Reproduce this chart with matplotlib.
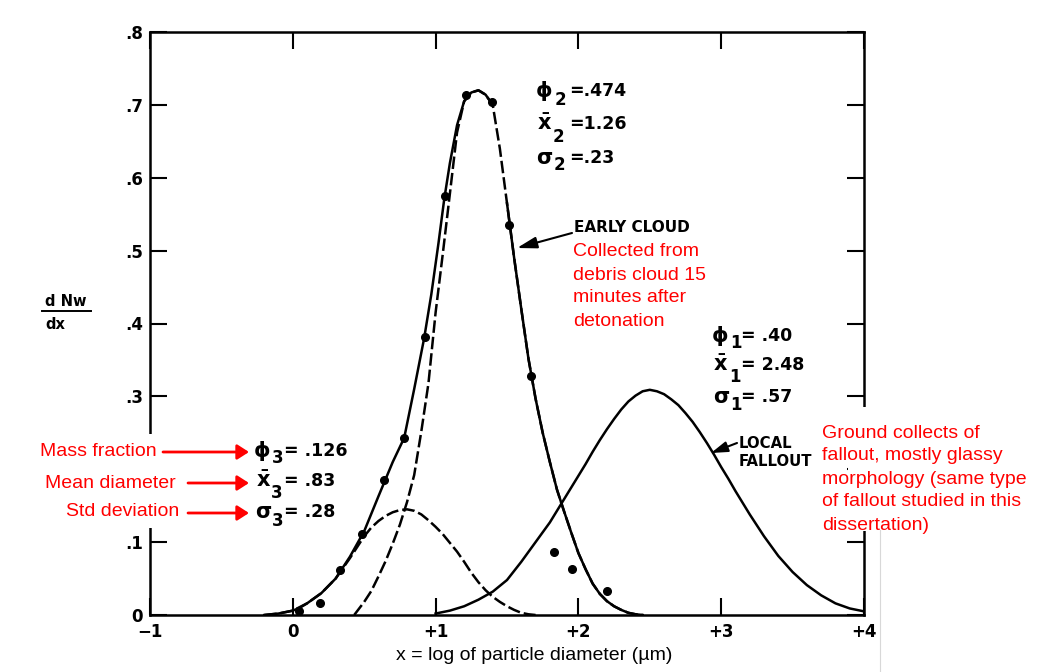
import matplotlib
matplotlib.use('Agg')
import matplotlib.pyplot as plt
from matplotlib.patches import Rectangle, FancyArrowPatch
from matplotlib.lines import Line2D
import numpy as np

# ---------------- data ----------------
x_total = [-0.20, -0.10, 0.00, 0.05, 0.10, 0.20, 0.30, 0.40, 0.50, 0.60, 0.70, 0.78,
           0.85, 0.92, 0.97, 1.02, 1.06, 1.10, 1.15, 1.20, 1.25, 1.30, 1.35, 1.40,
           1.45, 1.50, 1.55, 1.60, 1.65, 1.70, 1.75, 1.80, 1.85, 1.90, 1.95, 2.00,
           2.05, 2.10, 2.15, 2.20, 2.25, 2.30, 2.35, 2.40, 2.45]
y_total = [0.000, 0.002, 0.006, 0.010, 0.016, 0.030, 0.050, 0.080, 0.115, 0.163, 0.210, 0.243,
           0.310, 0.380, 0.440, 0.510, 0.570, 0.620, 0.672, 0.705, 0.717, 0.720, 0.714, 0.700,
           0.640, 0.565, 0.490, 0.420, 0.352, 0.297, 0.250, 0.210, 0.172, 0.142, 0.113, 0.085,
           0.063, 0.043, 0.029, 0.019, 0.012, 0.007, 0.003, 0.001, 0.000]

x_cloud = [0.43, 0.50, 0.55, 0.60, 0.65, 0.70, 0.75, 0.80, 0.85, 0.90, 0.95, 1.00,
           1.05, 1.10, 1.15, 1.20, 1.25, 1.30, 1.35, 1.40, 1.45, 1.50, 1.55, 1.60,
           1.65, 1.70, 1.75, 1.80, 1.85, 1.90, 1.95, 2.00, 2.05, 2.10, 2.15, 2.20,
           2.25, 2.30, 2.35, 2.40, 2.45]
y_cloud = [0.000, 0.018, 0.033, 0.053, 0.074, 0.098, 0.124, 0.155, 0.192, 0.252, 0.318, 0.415,
           0.495, 0.578, 0.662, 0.705, 0.717, 0.720, 0.714, 0.700, 0.640, 0.565, 0.490, 0.420,
           0.352, 0.297, 0.250, 0.210, 0.172, 0.142, 0.113, 0.085, 0.063, 0.043, 0.029, 0.019,
           0.012, 0.007, 0.003, 0.001, 0.000]

x_small = [-0.20, -0.10, 0.00, 0.10, 0.20, 0.30, 0.40, 0.50, 0.55, 0.60, 0.65, 0.70,
           0.75, 0.80, 0.85, 0.90, 0.95, 1.00, 1.05, 1.10, 1.15, 1.20, 1.25, 1.30,
           1.35, 1.40, 1.45, 1.50, 1.55, 1.60, 1.65, 1.70]
y_small = [0.000, 0.002, 0.006, 0.016, 0.030, 0.050, 0.078, 0.108, 0.120, 0.129, 0.136, 0.141,
           0.144, 0.145, 0.143, 0.138, 0.130, 0.121, 0.111, 0.099, 0.087, 0.073, 0.058, 0.045,
           0.034, 0.025, 0.018, 0.012, 0.007, 0.003, 0.001, 0.000]

x_local = [1.0, 1.1, 1.2, 1.3, 1.4, 1.5, 1.6, 1.7, 1.8, 1.9, 1.95, 2.0, 2.05, 2.1, 2.15,
           2.2, 2.25, 2.3, 2.35, 2.4, 2.45, 2.5, 2.55, 2.6, 2.65, 2.7, 2.75, 2.8, 2.85,
           2.9, 2.95, 3.0, 3.05, 3.1, 3.2, 3.3, 3.4, 3.5, 3.6, 3.7, 3.8, 3.9, 4.0]
y_local = [0.002, 0.006, 0.012, 0.021, 0.032, 0.048, 0.073, 0.100, 0.127, 0.159, 0.175,
           0.191, 0.207, 0.224, 0.240, 0.255, 0.269, 0.282, 0.293, 0.301, 0.307, 0.309,
           0.307, 0.303, 0.296, 0.288, 0.277, 0.265, 0.251, 0.236, 0.220, 0.203, 0.187,
           0.170, 0.138, 0.108, 0.081, 0.059, 0.041, 0.027, 0.016, 0.009, 0.005]

dots_x = [0.044, 0.189, 0.333, 0.487, 0.639, 0.779, 0.923, 1.063, 1.215, 1.396, 1.517,
          1.669, 1.832, 1.956, 2.198]
dots_y = [0.005, 0.017, 0.062, 0.111, 0.185, 0.243, 0.382, 0.575, 0.713, 0.704, 0.535,
          0.328, 0.087, 0.063, 0.033]

xtick_pos = [-1, 0, 1, 2, 3, 4]
xtick_labels = ['\u22121', '0', '+1', '+2', '+3', '+4']
ytick_pos = [0, 0.1, 0.2, 0.3, 0.4, 0.5, 0.6, 0.7, 0.8]
ytick_labels = ['0', '.1', '', '.3', '.4', '.5', '.6', '.7', '.8']

# ---------------- figure ----------------
W, H = 1041, 672
def fx(px):
    return px / W
def fy(py):
    return 1 - py / H

plt.rcParams['mathtext.fontset'] = 'dejavusans'
fig = plt.figure(figsize=(W / 100, H / 100), dpi=100)
ax = fig.add_axes([fx(150), fy(615), (864 - 150) / W, (615 - 32) / H])
ax.set_xlim(-1, 4)
ax.set_ylim(0, 0.8)

LW = 1.8
dash = (0, (5, 1.6))
ax.plot(x_small, y_small, color='black', lw=LW, linestyle=dash)
ax.plot(x_cloud, y_cloud, color='black', lw=LW, linestyle=dash)
xt = np.array(x_total)
yt = np.array(y_total)
m1 = xt <= 1.40
m2 = xt >= 1.50
ax.plot(xt[m1], yt[m1], color='black', lw=LW)
ax.plot(xt[m2], yt[m2], color='black', lw=LW)
ax.plot(x_local, y_local, color='black', lw=LW)
ax.plot(dots_x, dots_y, 'o', color='black', markersize=5.5, zorder=5)

ax.set_xticks(xtick_pos)
ax.set_xticklabels(xtick_labels, fontsize=12, fontweight='bold', family='DejaVu Sans')
ax.set_yticks(ytick_pos)
ax.set_yticklabels(ytick_labels, fontsize=12, fontweight='bold', family='DejaVu Sans')
ax.tick_params(axis='both', direction='in', length=12.5, width=1.5, top=True, right=True,
               color='black')
ax.tick_params(axis='x', pad=6)
ax.tick_params(axis='y', pad=5)
for s in ax.spines.values():
    s.set_linewidth(1.8)

# ---- y-axis label as a fraction ----
fig.text(fx(45), fy(301), 'd Nw', fontsize=10.5, fontweight='bold', ha='left', va='center')
fig.add_artist(Line2D([fx(42), fx(91)], [fy(311), fy(311)], color='black', lw=1.4))
fig.text(fx(45), fy(325), 'dx', fontsize=10.5, fontweight='bold', ha='left', va='center')

# ---- x-axis label ----
fig.text(fx(534), fy(656), 'x = log of particle diameter (\u00b5m)', fontsize=14,
         family='Liberation Sans', ha='center', va='center')

# ---- parameter labels ----
def param(xs, ys, sym, xsub, ysub, sub, xv, val):
    fig.text(fx(xs), fy(ys), sym, fontsize=15, fontweight='bold', ha='left', va='center')
    fig.text(fx(xsub), fy(ysub), sub, fontsize=12, fontweight='bold', ha='left', va='center')
    fig.text(fx(xv), fy(ys), val, fontsize=12.5, fontweight='bold', ha='left', va='center')

XBAR = r'$\mathbf{\bar{x}}$'
param(536, 91, '\u03d5', 555, 100, '2', 569, '=.474')
param(537, 124, XBAR, 553, 137, '2', 569, '=1.26')
param(536, 158, '\u03c3', 554, 165, '2', 569, '=.23')

param(254, 451, '\u03d5', 272, 458, '3', 284, '= .126')
param(256, 481, XBAR, 271, 493, '3', 284, '= .83')
param(255, 512, '\u03c3', 272, 521, '3', 284, '= .28')

param(712, 336, '\u03d5', 730, 343, '1', 741, '= .40')
param(713, 365, XBAR, 729, 377, '1', 741, '= 2.48')
param(713, 397, '\u03c3', 730, 405, '1', 741, '= .57')

# ---- curve labels ----
fig.text(fx(574), fy(228), 'EARLY CLOUD', fontsize=11, fontweight='bold', ha='left', va='center')
fig.text(fx(739), fy(443), 'LOCAL', fontsize=10.7, fontweight='bold', ha='left', va='center')
fig.text(fx(739), fy(462), 'FALLOUT', fontsize=10.7, fontweight='bold', ha='left', va='center')

def arrow(x0, y0, x1, y1, color, lw, hl, hw):
    a = FancyArrowPatch((fx(x0), fy(y0)), (fx(x1), fy(y1)), transform=fig.transFigure,
                        arrowstyle='-|>,head_length=%g,head_width=%g' % (hl, hw),
                        color=color, lw=lw, shrinkA=0, shrinkB=0, mutation_scale=10,
                        zorder=12)
    fig.add_artist(a)

arrow(572, 233, 517, 248, 'black', 1.5, 1.2, 0.35)
arrow(737, 443, 711, 453, 'black', 1.5, 1.0, 0.32)

# ---- white covers over the spines (as in the reference) ----
fig.add_artist(Rectangle((fx(139), fy(528)), fx(33), 94 / H, transform=fig.transFigure,
                         facecolor='white', edgecolor='none', zorder=10))
fig.add_artist(Rectangle((fx(848), fy(531)), fx(24), 124 / H, transform=fig.transFigure,
                         facecolor='white', edgecolor='none', zorder=10))

# ---- red annotations ----
RED = '#ff0000'
red_kw = dict(fontsize=14, family='Liberation Sans', color=RED, va='center', zorder=13)
fig.text(fx(157), fy(452), 'Mass fraction', ha='right', **red_kw)
fig.text(fx(176), fy(483), 'Mean diameter', ha='right', **red_kw)
fig.text(fx(179), fy(512), 'Std deviation', ha='right', **red_kw)
arrow(163, 452, 249, 452, RED, 2.0, 0.7, 0.45)
arrow(188, 483, 249, 483, RED, 2.0, 0.7, 0.45)
arrow(188, 513, 249, 513, RED, 2.0, 0.7, 0.45)

cloud_lines = ['Collected from', 'debris cloud 15', 'minutes after', 'detonation']
for i, t in enumerate(cloud_lines):
    fig.text(fx(573), fy(252 + 23 * i), t, ha='left', **red_kw)

ground_lines = ['Ground collects of', 'fallout, mostly glassy', 'morphology (same type',
                'of fallout studied in this', 'dissertation)']
for i, t in enumerate(ground_lines):
    fig.text(fx(822), fy(433 + 23 * i), t, ha='left', **red_kw)

fig.add_artist(Line2D([fx(880), fx(880)], [fy(530), 0], color='#d8d8d8', lw=0.8))

fig.savefig('out.png', dpi=100, facecolor='white')
